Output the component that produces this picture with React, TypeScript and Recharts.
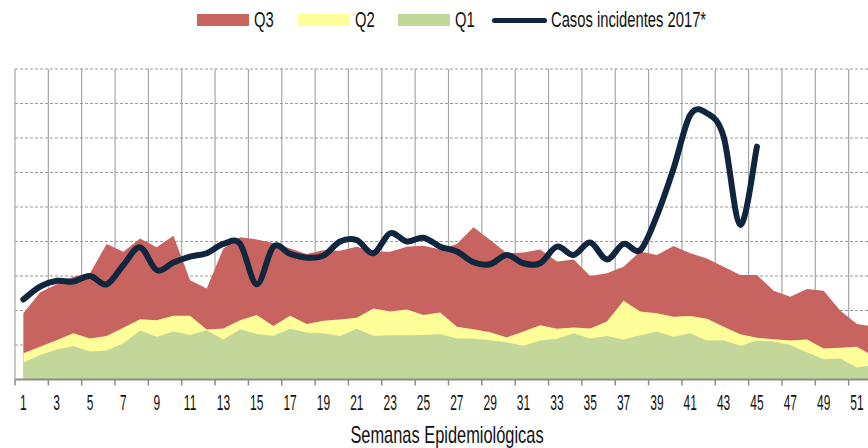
import { ComposedChart, Area, Line, XAxis, YAxis, CartesianGrid, Legend } from 'recharts';

// Semanas epidemiológicas 1..52
const WEEKS = [
  1, 2, 3, 4, 5, 6, 7, 8, 9, 10, 11, 12, 13, 14, 15, 16, 17, 18, 19, 20, 21, 22, 23, 24, 25, 26,
  27, 28, 29, 30, 31, 32, 33, 34, 35, 36, 37, 38, 39, 40, 41, 42, 43, 44, 45, 46, 47, 48, 49, 50, 51, 52,
];

// canal endémico (sin escala visible)
const Q3 = [
  1.92, 2.52, 2.76, 2.98, 3.08, 3.93, 3.7, 4.09, 3.83, 4.17,
  2.88, 2.64, 3.8, 4.12, 4.06, 3.96, 3.8, 3.64, 3.75, 3.73,
  3.85, 3.71, 3.7, 3.85, 3.88, 3.77, 3.93, 4.41, 4.04, 3.66,
  3.68, 3.77, 3.42, 3.48, 3.0, 3.08, 3.27, 3.71, 3.61, 3.87,
  3.66, 3.51, 3.27, 3.03, 3.03, 2.57, 2.4, 2.62, 2.57, 1.99,
  1.61, 1.53,
];
const Q2 = [
  0.76, 0.95, 1.14, 1.34, 1.19, 1.26, 1.5, 1.75, 1.72, 1.85,
  1.85, 1.45, 1.48, 1.72, 1.87, 1.55, 1.85, 1.61, 1.7, 1.74,
  1.79, 2.06, 1.97, 2.03, 1.87, 1.94, 1.53, 1.46, 1.37, 1.22,
  1.39, 1.57, 1.47, 1.51, 1.48, 1.68, 2.28, 1.97, 1.92, 1.82,
  1.84, 1.76, 1.53, 1.31, 1.21, 1.17, 1.13, 1.16, 0.9, 0.92,
  0.95, 0.68,
];
const Q1 = [
  0.49, 0.71, 0.87, 0.97, 0.81, 0.84, 1.05, 1.42, 1.24, 1.39,
  1.29, 1.43, 1.16, 1.46, 1.32, 1.27, 1.47, 1.36, 1.34, 1.26,
  1.47, 1.27, 1.28, 1.28, 1.29, 1.32, 1.19, 1.19, 1.14, 1.08,
  0.98, 1.13, 1.18, 1.34, 1.19, 1.26, 1.16, 1.28, 1.39, 1.24,
  1.34, 1.13, 1.14, 0.98, 1.13, 1.1, 1.0, 0.79, 0.59, 0.61,
  0.35, 0.42,
];
// casos 2017, hasta la semana 45
const CASOS_2017 = [
  2.32, 2.69, 2.86, 2.84, 3.0, 2.76, 3.32, 3.83, 3.17, 3.39,
  3.56, 3.66, 3.93, 3.93, 2.76, 3.85, 3.64, 3.53, 3.59, 4.0,
  4.04, 3.66, 4.24, 4.0, 4.11, 3.85, 3.71, 3.4, 3.34, 3.61,
  3.37, 3.37, 3.85, 3.61, 3.97, 3.48, 3.93, 3.75, 4.75, 6.12,
  7.67, 7.72, 7.04, 4.48, 6.75,
];
const Y_TICKS = [0, 1, 2, 3, 4, 5, 6, 7, 8, 9];

const data = WEEKS.map((week, i) => ({
  week,
  q3: Q3[i],
  q2: Q2[i],
  q1: Q1[i],
  casos: i < CASOS_2017.length ? CASOS_2017[i] : null,
}));

const COLORS: Record<string, string> = {
  q3: '#c8645f',
  q2: '#ffff99',
  q1: '#c4d79b',
  casos: '#10263f',
};

// legend order and left edge of each item
const LEGEND_ITEMS = [
  { key: 'q3', label: 'Q3', left: 197 },
  { key: 'q2', label: 'Q2', left: 298 },
  { key: 'q1', label: 'Q1', left: 398 },
  { key: 'casos', label: 'Casos incidentes 2017*', left: 492 },
];

const CHART_W = 884;
const CHART_H = 448;
const LEGEND_H = 30;
const MARGIN = { top: 39, right: 2, left: 15, bottom: 8.5 };
const BAND = (CHART_W - MARGIN.left - MARGIN.right) / WEEKS.length;
const FONT = "'Liberation Sans', Arial, sans-serif";

// Excel-like smoothed line (Catmull-Rom through the points)
function smoothCurve(context: any) {
  let pts: number[][] = [];
  return {
    areaStart() {},
    areaEnd() {},
    lineStart() { pts = []; },
    point(x: number, y: number) { pts.push([+x, +y]); },
    lineEnd() {
      if (!pts.length) return;
      context.moveTo(pts[0][0], pts[0][1]);
      for (let i = 0; i < pts.length - 1; i++) {
        const p0 = pts[i - 1] || pts[i];
        const p1 = pts[i];
        const p2 = pts[i + 1];
        const p3 = pts[i + 2] || p2;
        context.bezierCurveTo(
          p1[0] + (p2[0] - p0[0]) / 6, p1[1] + (p2[1] - p0[1]) / 6,
          p2[0] - (p3[0] - p1[0]) / 6, p2[1] - (p3[1] - p1[1]) / 6,
          p2[0], p2[1],
        );
      }
    },
  };
}

function WeekTick({ x, y, payload }: any) {
  const wk = Number(payload.value);
  if (wk % 2 === 0) return <g />;
  const left = x - BAND / 2;
  return (
    <g>
      <line x1={left} y1={y} x2={left} y2={y + 6} stroke="#8c8c8c" strokeWidth={1.5} />
      <text
        transform={`translate(${x},${y + 30}) scale(0.8,1.5)`}
        textAnchor="middle"
        fontFamily={FONT}
        fontSize={15}
        fill="#111"
      >
        {wk}
      </text>
    </g>
  );
}

function AxisTitle({ viewBox }: any) {
  const cx = viewBox.x + viewBox.width / 2 - 1.5;
  return (
    <text
      transform={`translate(${cx},${viewBox.y + 63.5}) scale(0.82,1.15)`}
      textAnchor="middle"
      fontFamily={FONT}
      fontSize={20}
      fill="#111"
    >
      Semanas Epidemiológicas
    </text>
  );
}

function LegendRow() {
  return (
    <div style={{ position: 'relative', height: LEGEND_H }}>
      {LEGEND_ITEMS.map(item => {
        const isLine = item.key === 'casos';
        return (
          <div
            key={item.key}
            style={{ position: 'absolute', left: item.left, top: 0, height: LEGEND_H, display: 'flex', alignItems: 'center', whiteSpace: 'nowrap' }}
          >
            <span
              style={{
                display: 'inline-block',
                width: isLine ? 55 : 52,
                height: isLine ? 5 : 12,
                borderRadius: isLine ? 3 : 0,
                background: COLORS[item.key],
                marginRight: isLine ? 4 : 5,
              }}
            />
            <span
              style={{
                display: 'inline-block',
                fontFamily: FONT,
                fontSize: 18,
                color: '#111',
                transform: 'scale(0.82,1.22)',
                transformOrigin: 'left center',
                lineHeight: '18px',
              }}
            >
              {item.label}
            </span>
          </div>
        );
      })}
    </div>
  );
}

export default function App() {
  return (
    <div style={{ position: 'absolute', left: 0, top: 0, width: 868, height: 448, overflow: 'hidden', background: '#fff' }}>
      <ComposedChart width={CHART_W} height={CHART_H} data={data} margin={MARGIN}>
        <CartesianGrid
          horizontal={false}
          stroke="#a6a6a6"
          strokeWidth={1.2}
          verticalCoordinatesGenerator={({ offset }: any) =>
            WEEKS.filter(w => w % 2 === 1).map(w => offset.left + (w - 1) * BAND)
          }
        />
        <CartesianGrid vertical={false} stroke="#9a9a9a" strokeDasharray="3 2" />
        <XAxis
          dataKey="week"
          scale="band"
          interval={0}
          tickLine={false}
          tickSize={0}
          tickMargin={0}
          height={60}
          axisLine={{ stroke: '#8c8c8c', strokeWidth: 2 }}
          tick={<WeekTick />}
          label={<AxisTitle />}
        />
        <YAxis hide domain={[0, 9]} ticks={Y_TICKS} />
        <Legend
          verticalAlign="top"
          wrapperStyle={{ top: 5, left: 0, width: 868, height: LEGEND_H }}
          content={<LegendRow />}
        />
        <Area dataKey="q3" name="Q3" type="linear" fill={COLORS.q3} stroke="none" fillOpacity={1} isAnimationActive={false} />
        <Area dataKey="q2" name="Q2" type="linear" fill={COLORS.q2} stroke="none" fillOpacity={1} isAnimationActive={false} />
        <Area dataKey="q1" name="Q1" type="linear" fill={COLORS.q1} stroke="none" fillOpacity={1} isAnimationActive={false} />
        <Line
          dataKey="casos"
          name="Casos incidentes 2017*"
          type={smoothCurve as any}
          stroke={COLORS.casos}
          strokeWidth={6}
          strokeLinecap="round"
          dot={false}
          activeDot={false}
          isAnimationActive={false}
        />
      </ComposedChart>
    </div>
  );
}
